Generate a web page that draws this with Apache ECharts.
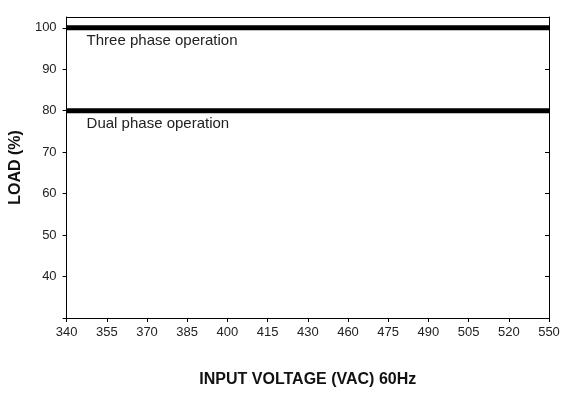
<!DOCTYPE html>
<html><head><meta charset="utf-8">
<script src="https://cdn.jsdelivr.net/npm/echarts@6/dist/echarts.min.js"></script>
<style>html,body{margin:0;padding:0;background:#fff}#c{width:573px;height:409px}</style>
</head><body><div id="c"></div>
<script>
const categories=['340','355','370','385','400','415','430','460','475','490','505','520','550'];
const threePhase=[100,100,100,100,100,100,100,100,100,100,100,100,100];
const dualPhase=[80,80,80,80,80,80,80,80,80,80,80,80,80];
const yTicks=[40,50,60,70,80,90,100];
const chart=echarts.init(document.getElementById('c'));
const font='Liberation Sans, Arial, sans-serif';
const yAx=(pos,show)=>({type:'value',position:pos,min:30,max:102.6,interval:10,
  axisLine:{show:true,lineStyle:{color:'#000',width:1}},
  axisTick:{show:true,inside:!show,length:4,lineStyle:{color:'#000'}},
  splitLine:{show:false},
  axisLabel:{show:show,color:'#222',fontSize:13,fontFamily:font,margin:10,showMaxLabel:false,
    formatter:v=>yTicks.includes(v)?String(v):''}});
chart.setOption({
  animation:false,
  grid:{left:63,right:24,top:17,bottom:91},
  xAxis:[{type:'category',data:categories,boundaryGap:false,
    axisLine:{lineStyle:{color:'#000'}},axisTick:{show:true,length:4,lineStyle:{color:'#000'}},
    axisLabel:{color:'#222',fontSize:13,fontFamily:font,margin:8},
    name:'INPUT VOLTAGE (VAC) 60Hz',nameLocation:'middle',nameGap:54,
    nameTextStyle:{fontSize:16,fontWeight:'bold',color:'#111',fontFamily:font}},
    {type:'category',data:categories,boundaryGap:false,position:'top',
    axisLine:{lineStyle:{color:'#000'}},axisTick:{show:false},axisLabel:{show:false}}],
  yAxis:[Object.assign(yAx('left',true),{name:'LOAD (%)',nameLocation:'middle',nameGap:38,
    nameTextStyle:{fontSize:16,fontWeight:'bold',color:'#111',fontFamily:font}}),yAx('right',false)],
  series:[
    {type:'line',data:threePhase,symbol:'none',lineStyle:{color:'#000',width:5}},
    {type:'line',data:dualPhase,symbol:'none',lineStyle:{color:'#000',width:5}}
  ]
});
const p1=chart.convertToPixel({xAxisIndex:0,yAxisIndex:0},[0,100]);
const p2=chart.convertToPixel({xAxisIndex:0,yAxisIndex:0},[0,80]);
chart.setOption({graphic:[
  {type:'text',left:p1[0]+20,top:p1[1]+6,style:{text:'Three phase operation',fontSize:15,fontFamily:font,fill:'#222'}},
  {type:'text',left:p2[0]+20,top:p2[1]+6,style:{text:'Dual phase operation',fontSize:15,fontFamily:font,fill:'#222'}}
]});
</script></body></html>
